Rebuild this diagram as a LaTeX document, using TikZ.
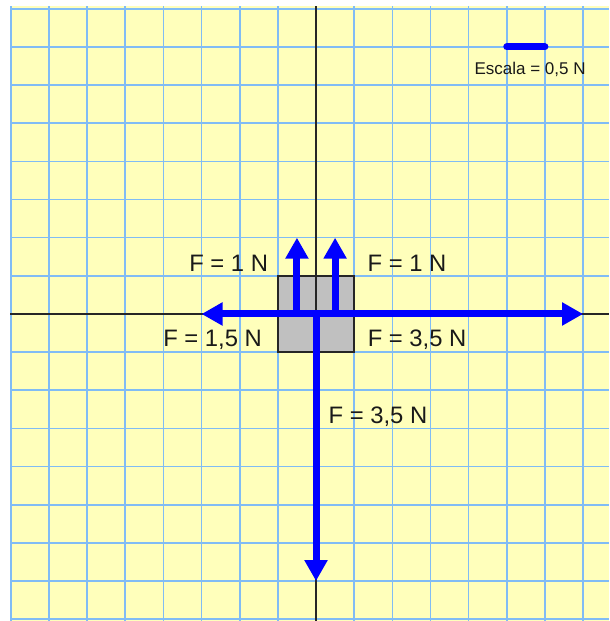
\documentclass[tikz,border=0pt]{standalone}
\usepackage{fontspec}
\setmainfont{Liberation Sans}
\usetikzlibrary{positioning, arrows.meta}
\definecolor{paperyellow}{RGB}{255,255,187}
\definecolor{gridblue}{RGB}{128,188,245}
\definecolor{forceblue}{RGB}{0,0,255}
\definecolor{blockgray}{RGB}{192,192,192}

\begin{document}
\begin{tikzpicture}[x=38.15pt, y=38.15pt,
    force/.style={draw=forceblue, line width=7pt, -{Triangle[length=21pt,width=22pt]}},
    flabel/.style={font=\fontsize{23.8}{28}\selectfont, text=black!90, inner sep=0pt}]
  \useasboundingbox (-8.283,-8.047) rectangle (7.68,8.23);
  % squared paper
  \fill[paperyellow] (-8.02,-8.05) rectangle (7.68,8.07);
  \draw[gridblue, line width=1.6pt, step=1] (-8.02,-8.05) grid (7.68,8.07);
  % block
  \node[draw=black!85, line width=1.6pt, fill=blockgray, minimum size=76.3pt, inner sep=0pt] (block) at (0,0) {};
  % axes
  \draw[black!85, line width=1.8pt] (-8.02,0) -- (7.68,0);
  \draw[black!85, line width=1.8pt] (0,-8.05) -- (0,8.07);
  % forces
  \coordinate (O) at (0,0);
  \coordinate (upL) at (-0.5,0);
  \coordinate (upR) at (0.5,0);
  \coordinate (tipUpL) at (-0.5,2);
  \coordinate (tipUpR) at (0.5,2);
  \coordinate (tipLeft) at (-3,0);
  \coordinate (tipRight) at (7,0);
  \coordinate (tipDown) at (0,-7);
  \draw[force] (O) -- (tipLeft);
  \draw[force] (O) -- (tipRight);
  \draw[force] (O) -- (tipDown);
  \draw[force] (upL) -- (tipUpL);
  \draw[force] (upR) -- (tipUpR);
  % labels
  \node[flabel] (labUpL) at (-2.29,1.34) {F = 1 N};
  \node[flabel] (labUpR) at (2.385,1.34) {F = 1 N};
  \node[flabel] (labLeft) at (-2.71,-0.68) {F = 1,5 N};
  \node[flabel] (labRight) at (2.65,-0.68) {F = 3,5 N};
  \node[flabel] (labDown) at (1.625,-2.70) {F = 3,5 N};
  % scale
  \coordinate (scaleA) at (5,7);
  \coordinate (scaleB) at (6,7);
  \draw[forceblue, line width=7pt, line cap=round] (scaleA) -- (scaleB);
  \node[font=\fontsize{17}{20}\selectfont, text=black!90, inner sep=0pt] (scaleLab) at (5.61,6.40) {Escala = 0,5 N};
\end{tikzpicture}
\end{document}
